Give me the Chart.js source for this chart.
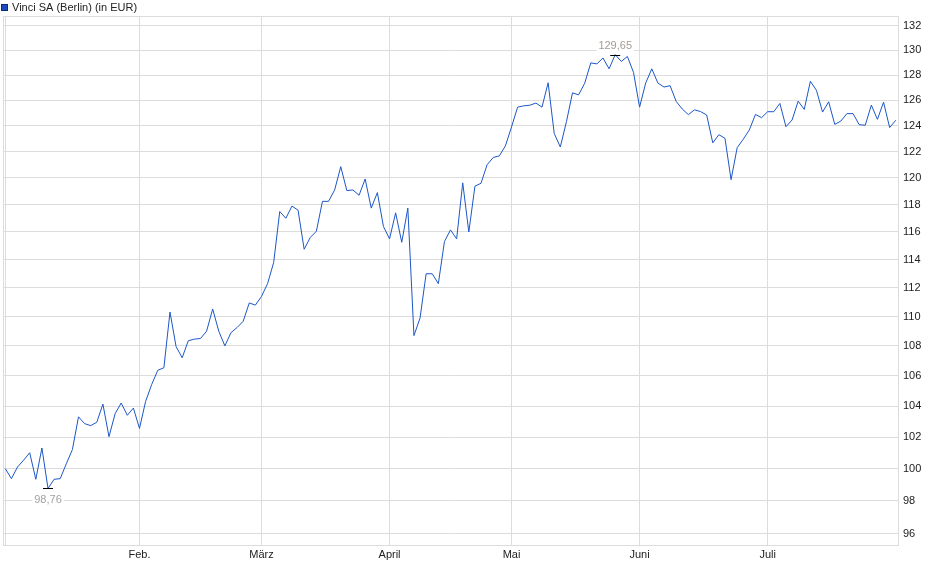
<!DOCTYPE html>
<html><head><meta charset="utf-8">
<script src="https://cdn.jsdelivr.net/npm/chart.js@4.4.1/dist/chart.umd.min.js"></script>
<style>html,body{margin:0;padding:0;background:#fff;}#wrap{width:940px;height:579px;position:relative;}</style>
</head><body><div id="wrap"><canvas id="c" width="940" height="579"></canvas></div>
<script>
const seriesName = 'Vinci SA (Berlin) (in EUR)';
// daily closing prices, one per trading day (2 Jan - 30 Jul)
const prices = [
 100.0, 99.37, 100.1, 100.53, 101.0, 99.33, 101.3, 98.76, 99.33, 99.37,
 100.3, 101.2, 103.3, 102.86, 102.73, 102.95, 104.13, 102.02, 103.5, 104.2,
 103.4, 103.87, 102.55, 104.3, 105.42, 106.36, 106.53, 110.32, 107.95, 107.2,
 108.35, 108.46, 108.5, 109.0, 110.53, 109.0, 108.0, 108.9, 109.25, 109.68,
 110.95, 110.8, 111.4, 112.3, 113.8, 117.5, 117.0, 117.9, 117.6, 114.75,
 115.6, 116.05, 118.25, 118.25, 119.1, 120.85, 119.05, 119.1, 118.7, 119.92,
 117.75, 118.9, 116.4, 115.5, 117.4, 115.25, 117.75, 108.7, 109.9, 113.0,
 113.0, 112.3, 115.3, 116.15, 115.5, 119.63, 116.0, 119.38, 119.6, 121.0,
 121.55, 121.67, 122.44, 123.9, 125.45, 125.55, 125.6, 125.77, 125.45, 127.38,
 123.4, 122.35, 124.3, 126.58, 126.42, 127.35, 128.98, 128.9, 129.38, 128.5,
 129.65, 129.1, 129.5, 128.22, 125.45, 127.36, 128.5, 127.36, 127.04, 127.15,
 125.9, 125.3, 124.86, 125.24, 125.1, 124.83, 122.67, 123.3, 123.02, 119.87,
 122.3, 122.95, 123.67, 124.88, 124.62, 125.09, 125.09, 125.74, 123.92, 124.44,
 125.92, 125.27, 127.5, 126.78, 125.06, 125.87, 124.1, 124.36, 124.94, 124.94,
 124.08, 124.03, 125.61, 124.49, 125.84, 123.85, 124.42
];
// trading-day index of the first session of each month
const monthStarts = [22, 42, 63, 83, 104, 125];
const monthLabels = ['Feb.', 'März', 'April', 'Mai', 'Juni', 'Juli'];
const yTickValues = [96, 98, 100, 102, 104, 106, 108, 110, 112, 114, 116, 118, 120, 122, 124, 126, 128, 130, 132];
const yMin = 95.32, yMax = 132.83;
const xMin = -0.38, xMax = 146.37;

const FONT = 'Liberation Sans, Arial, sans-serif';
const GRID = '#dcdcdc';

const points = prices.map((v, i) => ({x: i, y: v}));

const framePlugin = {
  id: 'frame',
  beforeDatasetsDraw(chart) {
    const {ctx, chartArea: a} = chart;
    ctx.save();
    ctx.strokeStyle = GRID;
    ctx.lineWidth = 1;
    ctx.strokeRect(Math.round(a.left) + 0.5, Math.round(a.top) + 0.5,
      Math.round(a.right - a.left) - 0, Math.round(a.bottom - a.top));
    ctx.restore();
  }
};

const annotPlugin = {
  id: 'annot',
  afterDatasetsDraw(chart) {
    const {ctx} = chart;
    const xs = chart.scales.x, ys = chart.scales.y;
    const minV = Math.min(...prices), maxV = Math.max(...prices);
    const iMin = prices.indexOf(minV), iMax = prices.indexOf(maxV);
    function mark(i, below, color) {
      const px = xs.getPixelForValue(i), py = ys.getPixelForValue(prices[i]);
      ctx.save();
      ctx.strokeStyle = '#000';
      ctx.lineWidth = 1;
      const yy = Math.round(py) + 0.5;
      ctx.beginPath(); ctx.moveTo(px - 5, yy); ctx.lineTo(px + 5, yy); ctx.stroke();
      const txt = prices[i].toFixed(2).replace('.', ',');
      ctx.font = '11px ' + FONT;
      const w = ctx.measureText(txt).width;
      const ty = below ? py + 11 : py - 9;
      ctx.fillStyle = '#fff';
      ctx.fillRect(px - w / 2 - 2, ty - 6, w + 4, 12);
      ctx.fillStyle = color;
      ctx.textAlign = 'center';
      ctx.textBaseline = 'middle';
      ctx.fillText(txt, px, ty);
      ctx.restore();
    }
    mark(iMin, true, '#a3a3a3');
    mark(iMax, false, '#a59b95');
  }
};

const legendPlugin = {
  id: 'legendBox',
  afterDraw(chart) {
    const {ctx} = chart;
    ctx.save();
    ctx.fillStyle = '#1a4cc0';
    ctx.fillRect(1, 4, 7, 7);
    ctx.strokeStyle = '#0c2a78';
    ctx.lineWidth = 1;
    ctx.strokeRect(1.5, 4.5, 6, 6);
    ctx.fillStyle = '#222';
    ctx.font = '11px ' + FONT;
    ctx.textBaseline = 'middle';
    ctx.textAlign = 'left';
    ctx.fillText(seriesName, 12, 7.5);
    ctx.restore();
  }
};

new Chart(document.getElementById('c').getContext('2d'), {
  type: 'line',
  data: {datasets: [{
    label: seriesName,
    data: points,
    borderColor: '#1c56c6',
    borderWidth: 1,
    pointRadius: 0,
    tension: 0,
    fill: false
  }]},
  options: {
    responsive: false,
    animation: false,
    devicePixelRatio: 1,
    layout: {padding: {left: 3, top: 16, right: 0, bottom: 0}},
    plugins: {legend: {display: false}, tooltip: {enabled: false}},
    scales: {
      x: {
        type: 'linear', min: xMin, max: xMax,
        afterBuildTicks: s => { s.ticks = [0, ...monthStarts].map(v => ({value: v})); },
        afterFit: s => { s.height = 34; },
        ticks: {
          autoSkip: false, maxRotation: 0, padding: 3, color: '#222',
          font: {family: FONT, size: 11},
          callback: v => { const k = monthStarts.indexOf(v); return k >= 0 ? monthLabels[k] : ''; }
        },
        grid: {color: GRID, drawTicks: false},
        border: {color: GRID}
      },
      y: {
        type: 'logarithmic', position: 'right', min: yMin, max: yMax,
        afterBuildTicks: s => { s.ticks = yTickValues.map(v => ({value: v})); },
        afterFit: s => { s.width = 42; },
        ticks: {
          autoSkip: false, padding: 5, color: '#222',
          font: {family: FONT, size: 11},
          callback: v => String(v)
        },
        grid: {color: GRID, drawTicks: false},
        border: {color: GRID}
      }
    }
  },
  plugins: [framePlugin, annotPlugin, legendPlugin]
});
</script>
</body></html>
